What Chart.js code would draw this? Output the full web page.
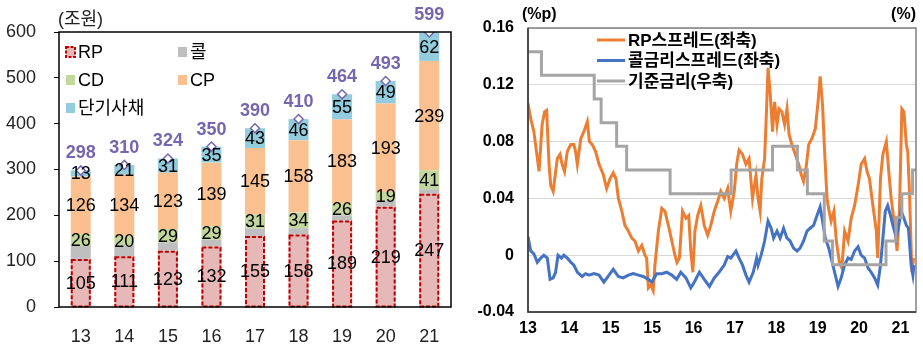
<!DOCTYPE html>
<html>
<head>
<meta charset="utf-8">
<script src="https://cdn.jsdelivr.net/npm/chart.js@4.4.0/dist/chart.umd.min.js"></script>
<style>
  html, body { margin: 0; padding: 0; background: #fff; }
  #wrap { position: relative; width: 923px; height: 347px; }
  #left { position: absolute; left: 0; top: 0; width: 462px; height: 347px; }
  #right { position: absolute; left: 460px; top: 0; width: 463px; height: 347px; }
</style>
</head>
<body>
<div id="wrap">
  <div id="left"><canvas id="chart1"></canvas></div>
  <div id="right"><canvas id="chart2"></canvas></div>
</div>
<script>
// 왼쪽: 단기자금시장 규모 (조원)
const years = ['13', '14', '15', '16', '17', '18', '19', '20', '21'];
const rpVals = [105, 111, 123, 132, 155, 158, 189, 219, 247];
const callVals = [28, 24, 18, 15, 16, 14, 11, 13, 10];
const cdVals = [26, 20, 29, 29, 31, 34, 26, 19, 41];
const cpVals = [126, 134, 123, 139, 145, 158, 183, 193, 239];
const stbVals = [13, 21, 31, 35, 43, 46, 55, 49, 62];
const totals = [298, 310, 324, 350, 390, 410, 464, 493, 599];
const leftTicks = [0, 100, 200, 300, 400, 500, 600];

// 오른쪽: 스프레드(%p, 좌축)와 기준금리(%, 우축), x = 2013년 1월부터 개월 수
const xLabels = ['13', '14', '15', '15', '16', '17', '18', '19', '20', '21'];
const rightTicks = [-0.04, 0, 0.04, 0.08, 0.12, 0.16];

const rpMonths = [0, 0.8, 1.7, 3.2, 4.1, 4.8, 5.4, 6.1, 6.6, 7.3,
  8.5, 9.3, 9.9, 10.6, 11.4, 12.4, 13.3, 13.8, 14.3, 15.3,
  16.2, 17.2, 17.8, 18.6, 19.6, 20.6, 21.8, 22.8, 23.8, 24.7,
  25.5, 26.2, 27.2, 28.1, 29.1, 30.1, 31.0, 32.0, 33.0, 33.9,
  34.4, 34.9, 35.6, 36.3, 36.8, 37.8, 38.8, 39.7, 40.7, 41.7,
  42.6, 43.2, 43.9, 44.8, 45.8, 46.6, 47.2, 47.8, 48.4, 49.2,
  50.1, 51.1, 52.1, 53.0, 54.0, 55.0, 55.9, 56.9, 57.9, 58.8,
  59.8, 60.5, 61.2, 62.2, 63.2, 64.1, 65.1, 66.1, 66.7, 67.3,
  67.8, 68.6, 69.0, 69.6, 70.2, 70.9, 71.5, 72.2, 72.8, 73.6,
  74.4, 75.1, 75.7, 76.5, 77.5, 78.5, 79.2, 79.9, 80.6, 81.4,
  82.3, 83.3, 84.1, 84.7, 85.4, 86.0, 86.7, 87.3, 87.9, 88.7,
  89.4, 90.3, 91.0, 91.8, 92.8, 93.7, 94.7, 95.7, 96.6, 97.6,
  98.3, 99.0, 100.0, 101.0, 101.4, 102.2, 102.9, 103.9, 104.6, 105.3,
  106.3, 107.0, 107.7, 108.4, 109.0, 109.7, 110.1, 110.6, 111.3, 111.8];
const rpSpread = [0.107, 0.096, 0.087, 0.059, 0.092, 0.101, 0.102, 0.064, 0.049, 0.045,
  0.068, 0.071, 0.064, 0.059, 0.073, 0.078, 0.078, 0.073, 0.064, 0.082,
  0.087, 0.094, 0.080, 0.078, 0.073, 0.064, 0.057, 0.047, 0.054, 0.058,
  0.054, 0.040, 0.031, 0.021, 0.017, 0.012, 0.010, 0.003, 0.007, 0.000,
  -0.002, -0.023, -0.021, -0.025, -0.007, 0.017, 0.033, 0.031, 0.021, 0.010,
  0.000, -0.005, -0.002, 0.031, 0.026, 0.028, 0.003, -0.012, 0.017, 0.028,
  0.035, 0.021, 0.014, 0.021, 0.031, 0.038, 0.045, 0.040, 0.047, 0.031,
  0.045, 0.064, 0.074, 0.071, 0.064, 0.068, 0.040, 0.056, 0.040, 0.031,
  0.054, 0.068, 0.092, 0.132, 0.115, 0.087, 0.108, 0.092, 0.103, 0.101,
  0.092, 0.103, 0.085, 0.078, 0.071, 0.064, 0.057, 0.052, 0.061, 0.078,
  0.082, 0.089, 0.108, 0.126, 0.106, 0.073, 0.040, 0.031, 0.024, 0.031,
  0.010, -0.005, -0.009, 0.017, 0.010, 0.026, 0.035, 0.049, 0.064, 0.068,
  0.059, 0.054, 0.035, 0.017, -0.002, 0.054, 0.071, 0.080, 0.059, 0.040,
  0.021, 0.003, 0.031, 0.103, 0.101, 0.078, 0.073, 0.045, -0.012, -0.002];

const callMonths = [0, 0.8, 1.7, 2.7, 3.7, 4.6, 5.6, 6.4, 7.3, 8.0,
  8.7, 9.7, 10.4, 11.4, 12.4, 13.3, 14.3, 15.7, 16.7, 17.7,
  19.1, 20.6, 22.0, 23.8, 24.7, 26.2, 27.6, 29.1, 30.5, 32.0,
  33.4, 34.9, 35.9, 37.3, 38.8, 40.2, 41.7, 43.1, 44.3, 45.8,
  47.2, 48.2, 49.7, 51.1, 52.6, 54.0, 55.4, 56.9, 57.9, 58.8,
  60.3, 61.2, 62.2, 63.2, 64.1, 65.3, 66.3, 66.7, 67.6, 68.6,
  69.6, 70.5, 71.2, 72.2, 73.1, 74.1, 75.1, 76.0, 77.0, 78.0,
  78.9, 79.9, 80.9, 81.8, 82.8, 83.8, 84.7, 85.4, 86.2, 87.2,
  87.9, 88.9, 89.9, 90.8, 91.8, 92.8, 93.7, 94.7, 95.7, 96.6,
  97.6, 98.6, 99.5, 100.5, 101.4, 102.2, 102.9, 103.6, 104.3, 105.1,
  105.8, 106.8, 107.5, 108.2, 109.0, 109.7, 110.3, 111.1, 111.6, 111.9];
const callSpread = [0.013, 0.003, 0.001, -0.005, -0.002, 0.000, -0.002, -0.017, -0.016, -0.012,
  0.000, -0.002, 0.000, -0.002, -0.005, -0.007, -0.012, -0.015, -0.013, -0.014,
  -0.013, -0.014, -0.019, -0.013, -0.010, -0.015, -0.016, -0.014, -0.013, -0.014,
  -0.015, -0.017, -0.019, -0.013, -0.013, -0.012, -0.014, -0.017, -0.012, -0.016,
  -0.023, -0.019, -0.012, -0.017, -0.022, -0.016, -0.012, -0.007, -0.001, -0.002,
  0.003, -0.002, -0.007, -0.014, -0.019, -0.012, -0.002, -0.007, 0.000, 0.010,
  0.024, 0.019, 0.012, 0.017, 0.012, 0.019, 0.012, 0.010, 0.005, 0.003,
  0.005, 0.010, 0.017, 0.019, 0.021, 0.028, 0.034, 0.024, 0.012, 0.005,
  -0.002, -0.012, -0.022, -0.016, -0.007, -0.002, -0.003, 0.003, 0.006, 0.000,
  -0.002, -0.009, -0.012, -0.016, -0.021, -0.007, 0.012, 0.031, 0.035, 0.028,
  0.021, 0.012, 0.021, 0.031, 0.026, 0.021, 0.019, -0.007, -0.014, -0.007];

const rateMonths = [0, 3.9, 19.2, 21.2, 25.7, 28.6, 41.2, 58.9, 70.9, 78.1, 81.0, 85.9, 88.3, 103.8, 106.7, 108.4, 111.5, 112.5];
const baseRate = [2.75, 2.5, 2.25, 2.0, 1.75, 1.5, 1.25, 1.5, 1.75, 1.5, 1.25, 0.75, 0.5, 0.75, 1.0, 1.25, 1.5, 1.5];

const FONT = "'Liberation Sans', 'Noto Sans CJK KR', sans-serif";
Chart.defaults.font.family = FONT;
Chart.defaults.color = '#000';

const rpFill = '#E6B9B8', rpLine = '#C00000';
const purple = '#7566B0';

const pairs = (xs, ys) => xs.map((x, i) => ({ x: x, y: ys[i] }));

// 왼쪽 차트 꾸밈: RP 점선 테두리, 값 라벨, 합계, 범례, 테두리, 단위
const leftDecor = {
  id: 'leftDecor',
  afterDatasetsDraw(chart) {
    const { ctx, chartArea: a } = chart;
    ctx.save();
    ctx.strokeStyle = rpLine;
    ctx.lineWidth = 2;
    ctx.setLineDash([4, 2]);
    chart.getDatasetMeta(0).data.forEach(bar => {
      ctx.strokeRect(bar.x - bar.width / 2 + 1, bar.y + 1, bar.width - 2, bar.base - bar.y - 1);
    });
    ctx.setLineDash([]);

    ctx.font = '18px ' + FONT;
    ctx.textAlign = 'center';
    ctx.textBaseline = 'middle';
    ctx.fillStyle = '#000';
    [0, 2, 3, 4].forEach(di => {
      const vals = chart.data.datasets[di].data;
      chart.getDatasetMeta(di).data.forEach((bar, i) => {
        ctx.fillText(vals[i], bar.x, (bar.y + bar.base) / 2 + 1);
      });
    });
    ctx.font = 'bold 18px ' + FONT;
    ctx.fillStyle = purple;
    chart.getDatasetMeta(5).data.forEach((pt, i) => {
      ctx.fillText(totals[i], pt.x, pt.y - 17);
    });

    ctx.strokeStyle = '#000';
    ctx.lineWidth = 1.5;
    ctx.strokeRect(a.left, a.top, a.right - a.left, a.bottom - a.top);

    ctx.font = '18px ' + FONT;
    ctx.textAlign = 'left';
    ctx.fillStyle = '#222';
    ctx.fillText('(조원)', a.left - 1, 20);

    // 범례 (두 줄 배치)
    const spots = [[7, 20], [119, 20], [7, 48], [119, 48], [7, 76]];
    chart.data.datasets.slice(0, 5).forEach((ds, i) => {
      const bx = a.left + spots[i][0], cy = a.top + spots[i][1];
      ctx.fillStyle = ds.backgroundColor;
      ctx.fillRect(bx, cy - 5, 9, 10);
      if (i === 0) {
        ctx.strokeStyle = rpLine;
        ctx.lineWidth = 2;
        ctx.setLineDash([3, 1.5]);
        ctx.strokeRect(bx, cy - 5, 9, 10);
        ctx.setLineDash([]);
      }
      ctx.fillStyle = '#000';
      ctx.fillText(ds.label, bx + 12, cy + 1);
    });
    ctx.restore();
  }
};

new Chart(document.getElementById('chart1'), {
  type: 'bar',
  data: {
    labels: years,
    datasets: [
      { label: 'RP', data: rpVals, backgroundColor: rpFill, stack: 'amt' },
      { label: '콜', data: callVals, backgroundColor: '#BFBFBF', stack: 'amt' },
      { label: 'CD', data: cdVals, backgroundColor: '#C3D69B', stack: 'amt' },
      { label: 'CP', data: cpVals, backgroundColor: '#FAC090', stack: 'amt' },
      { label: '단기사채', data: stbVals, backgroundColor: '#93CDDD', stack: 'amt' },
      {
        type: 'line', label: '합계', data: totals, stack: 'total', order: -1,
        showLine: false, pointStyle: 'rectRot', pointRadius: 4.5,
        pointBackgroundColor: '#fff', pointBorderColor: purple, pointBorderWidth: 1.5
      }
    ]
  },
  options: {
    responsive: true,
    maintainAspectRatio: false,
    animation: false,
    datasets: { bar: { categoryPercentage: 1, barPercentage: 0.46, borderWidth: 0 } },
    layout: { padding: { top: 32, right: 11, left: 0, bottom: 0 } },
    plugins: { legend: { display: false }, tooltip: { enabled: false } },
    scales: {
      x: {
        stacked: true,
        grid: { drawOnChartArea: false, drawTicks: false },
        border: { display: false },
        ticks: { padding: 19, color: '#222', font: { size: 18 } },
        afterFit: s => { s.height = 40; }
      },
      y: {
        stacked: true, min: 0, max: 600,
        afterBuildTicks: s => { s.ticks = leftTicks.map(v => ({ value: v })); },
        grid: { drawOnChartArea: false, drawTicks: true, tickLength: 5, color: '#000' },
        border: { display: false },
        ticks: { padding: 18, color: '#222', font: { size: 18 } },
        afterFit: s => { s.width = 59; }
      }
    }
  },
  plugins: [leftDecor]
});

// 오른쪽 차트 꾸밈: 테두리, 단위, 범례
const rightDecor = {
  id: 'rightDecor',
  afterDraw(chart) {
    const { ctx, chartArea: a } = chart;
    ctx.save();
    ctx.lineWidth = 1.5;
    ctx.strokeStyle = '#808080';
    ctx.strokeRect(a.left, a.top, a.right - a.left, a.bottom - a.top);
    ctx.strokeStyle = '#333';
    ctx.beginPath();
    ctx.moveTo(a.left, a.top);
    ctx.lineTo(a.left, a.bottom);
    ctx.lineTo(a.right, a.bottom);
    ctx.stroke();

    ctx.fillStyle = '#000';
    ctx.textBaseline = 'middle';
    ctx.font = 'bold 16px ' + FONT;
    ctx.textAlign = 'left';
    ctx.fillText('(%p)', a.left - 6, 15);
    ctx.textAlign = 'right';
    ctx.fillText('(%)', a.right, 15);

    ctx.font = 'bold 17px ' + FONT;
    ctx.textAlign = 'left';
    chart.data.datasets.forEach((ds, i) => {
      const y = a.top + 12 + i * 20.5;
      ctx.strokeStyle = ds.borderColor;
      ctx.lineWidth = 3;
      ctx.beginPath();
      ctx.moveTo(a.left + 69, y);
      ctx.lineTo(a.left + 97, y);
      ctx.stroke();
      ctx.fillText(ds.label, a.left + 100, y + 1);
    });
    ctx.restore();
  }
};

new Chart(document.getElementById('chart2'), {
  type: 'line',
  data: {
    datasets: [
      { label: 'RP스프레드(좌축)', data: pairs(rpMonths, rpSpread), borderColor: '#ED7D31', borderWidth: 3, yAxisID: 'y', order: 2 },
      { label: '콜금리스프레드(좌축)', data: pairs(callMonths, callSpread), borderColor: '#4472C4', borderWidth: 3, yAxisID: 'y', order: 1 },
      { label: '기준금리(우축)', data: pairs(rateMonths, baseRate), borderColor: '#A5A5A5', borderWidth: 3, stepped: 'before', yAxisID: 'y2', order: 0 }
    ]
  },
  options: {
    responsive: true,
    maintainAspectRatio: false,
    animation: false,
    elements: { point: { radius: 0 }, line: { tension: 0 } },
    layout: { padding: { top: 28, right: 7, left: 0, bottom: 0 } },
    plugins: { legend: { display: false }, tooltip: { enabled: false } },
    scales: {
      x: {
        type: 'linear', min: 0, max: 112.5,
        afterBuildTicks: s => { s.ticks = xLabels.map((_, i) => ({ value: i * 12 })); },
        grid: { drawOnChartArea: false, drawTicks: false },
        border: { display: false },
        ticks: {
          callback: (v, i) => xLabels[i], autoSkip: false, maxRotation: 0,
          padding: 7, font: { size: 16, weight: 'bold' }
        },
        afterFit: s => { s.height = 35; }
      },
      y: {
        min: -0.04, max: 0.16,
        afterBuildTicks: s => { s.ticks = rightTicks.map(v => ({ value: v })); },
        grid: { color: '#D9D9D9', drawTicks: false },
        border: { display: false },
        ticks: {
          callback: v => String(Number(v.toFixed(2))),
          padding: 14, font: { size: 16, weight: 'bold' }
        },
        afterFit: s => { s.width = 68; }
      },
      y2: { display: false, min: 0, max: 3 }
    }
  },
  plugins: [rightDecor]
});
</script>
</body>
</html>
